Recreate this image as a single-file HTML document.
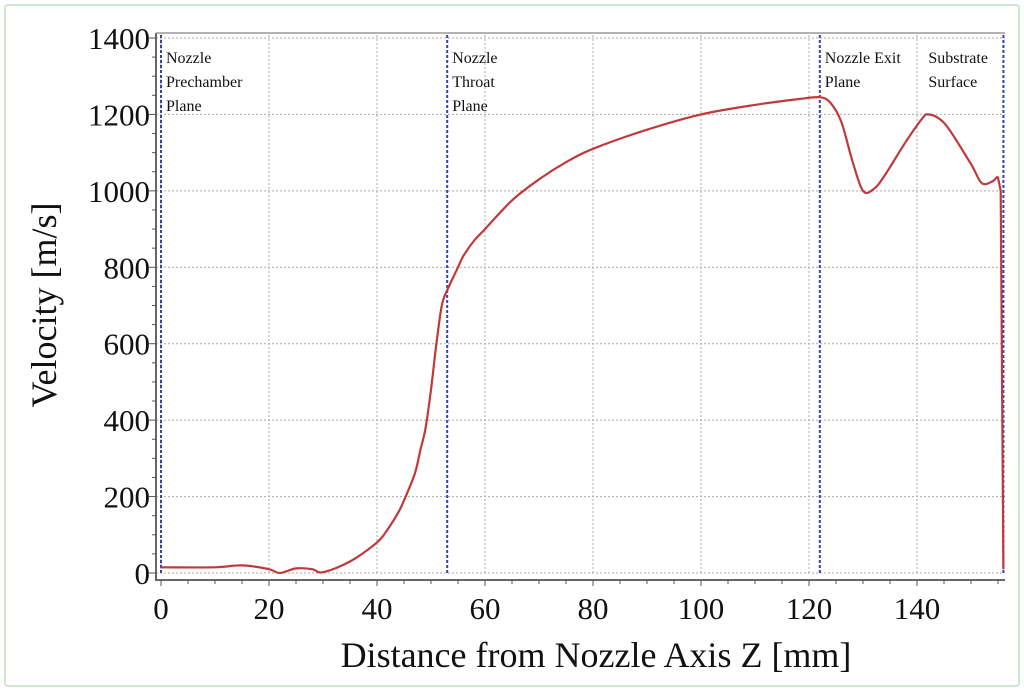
<!DOCTYPE html>
<html><head><meta charset="utf-8"><style>
body{margin:0;background:#fff;}
#wrap{position:absolute;left:4px;top:4px;width:1012px;height:679px;border:2px solid #cfe6cf;border-radius:4px;}
svg{position:absolute;left:0;top:0;}
text{font-family:"Liberation Serif",serif;fill:#111;}
</style></head><body>
<div id="wrap"></div>
<svg id="chart" width="1024" height="691"></svg>
<script>
const xVals=[0,10,15,20,22,25,28,30,35,40,42,44,45,47,48,49,50,51,52,53,55,56,58,60,65,70,75,80,90,100,110,118,122,124,126,128,130,132,134,138,141,142,144,146,150,152,154,155,155.5,156];
const yVals=[15,15,20,10,0,12,10,2,30,80,115,160,190,260,320,380,480,600,700,740,800,830,870,900,975,1030,1075,1110,1160,1200,1225,1240,1245,1230,1180,1080,1000,1005,1040,1130,1190,1200,1190,1160,1070,1020,1025,1035,1000,10];
const xTicks=[0,20,40,60,80,100,120,140];
const yTicks=[0,200,400,600,800,1000,1200,1400];
const planeX=[0,53,122,156];
const planeLabels=[["Nozzle","Prechamber","Plane"],["Nozzle","Throat","Plane"],["Nozzle Exit","Plane"],["Substrate","Surface"]];
const NS="http://www.w3.org/2000/svg",svg=document.getElementById('chart');
const X=v=>161+v*5.4, Y=v=>573-v*535/1400;
function mk(t,a,p){const e=document.createElementNS(NS,t);for(const k in a)e.setAttribute(k,a[k]);(p||svg).appendChild(e);return e;}
const L=156,R=1005,T=35,B=580;
xTicks.forEach(v=>{const g=mk('line',{x1:X(v),x2:X(v),y1:T,y2:B-7,stroke:'#aaa','stroke-dasharray':'2,2'});

});
yTicks.forEach(v=>{const g=mk('line',{x1:L,x2:R,y1:Y(v),y2:Y(v),stroke:'#aaa','stroke-dasharray':'2,2'});

});
const ax=mk('path',{d:`M${L},${T-2}V${B}H${R}`,fill:'none',stroke:'#666','stroke-width':2});


mk('line',{x1:L,x2:R,y1:T-2,y2:T-2,stroke:'#999','stroke-width':1.5});
for(let v=0;v<=156;v+=5){mk('line',{x1:X(v),x2:X(v),y1:B,y2:B+(v%20==0?6:4),stroke:'#555'});}
for(let v=0;v<=1400;v+=50){mk('line',{x1:L,x2:L-(v%200==0?7:4),y1:Y(v),y2:Y(v),stroke:'#555'});}
xTicks.forEach(v=>{const t=mk('text',{x:X(v),y:619,'font-size':31,'text-anchor':'middle'});t.textContent=v;

});
yTicks.forEach(v=>{const t=mk('text',{x:150,y:Y(v)+11,'font-size':31,'text-anchor':'end'});t.textContent=v;

});
planeX.forEach((v,i)=>{const l=mk('line',{x1:X(v),x2:X(v),y1:T,y2:B-5,stroke:'#3344aa','stroke-width':2,'stroke-dasharray':'3,2'});


const lx=i==3?X(v)-75:X(v)+5;
planeLabels[i].forEach((s,j)=>{const t=mk('text',{x:lx,y:63+j*24,'font-size':16});t.textContent=s;

});});
// smoothed series (catmull-rom)
const P=xVals.map((v,i)=>[X(v),Y(yVals[i])]);
let d='M'+P[0][0].toFixed(1)+','+P[0][1].toFixed(1);
for(let i=0;i<P.length-1;i++){const p0=P[Math.max(0,i-1)],p1=P[i],p2=P[i+1],p3=P[Math.min(P.length-1,i+2)];
const k=(i>=P.length-3)?0:1/6;
d+=`C${(p1[0]+(p2[0]-p0[0])*k).toFixed(1)},${(p1[1]+(p2[1]-p0[1])*k).toFixed(1)} ${(p2[0]-(p3[0]-p1[0])*k).toFixed(1)},${(p2[1]-(p3[1]-p1[1])*k).toFixed(1)} ${p2[0].toFixed(1)},${p2[1].toFixed(1)}`;}
const p=mk('path',{d:d,fill:'none',stroke:'#c0393b','stroke-width':2.2,'stroke-linejoin':'round'});


const xt=mk('text',{x:596,y:667,'font-size':36,'text-anchor':'middle'});xt.textContent='Distance from Nozzle Axis Z [mm]';


const yt=mk('text',{x:0,y:0,'font-size':36,'text-anchor':'middle',transform:'translate(56,305) rotate(-90)'});yt.textContent='Velocity [m/s]';


</script>
</body></html>
